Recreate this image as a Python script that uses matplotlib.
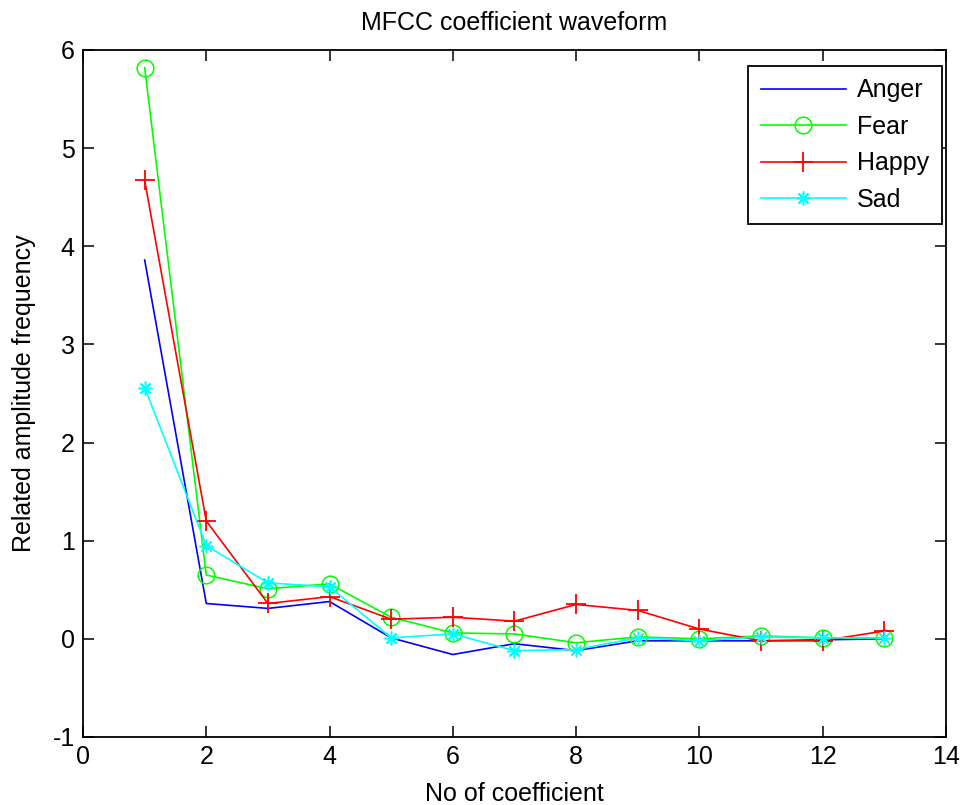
import numpy as np
import matplotlib
matplotlib.use('Agg')
import matplotlib.pyplot as plt

plt.rcParams['font.family'] = ['Liberation Sans', 'DejaVu Sans']
plt.rcParams['axes.unicode_minus'] = False

coef = [1, 2, 3, 4, 5, 6, 7, 8, 9, 10, 11, 12, 13]
anger = [3.86, 0.36, 0.31, 0.38, 0.01, -0.16, -0.05, -0.12, -0.02, -0.02, -0.02, -0.01, 0.0]
fear = [5.82, 0.65, 0.51, 0.56, 0.22, 0.06, 0.05, -0.04, 0.02, 0.0, 0.03, 0.01, 0.01]
happy = [4.67, 1.20, 0.36, 0.43, 0.20, 0.22, 0.18, 0.35, 0.29, 0.10, -0.02, -0.02, 0.08]
sad = [2.56, 0.95, 0.57, 0.53, 0.01, 0.05, -0.12, -0.11, 0.01, -0.02, 0.02, 0.01, 0.01]


def main():
    fig = plt.figure(figsize=(9.69, 8.05), dpi=100)
    ax = fig.add_axes([0.0857, 0.0845, 0.8903, 0.8535])

    # MATLAB style asterisk = plus + cross
    ax.plot(coef, anger, color='#0000ff', lw=1.2, label='Anger')
    ax.plot(coef, fear, color='#00ff00', lw=1.2, marker='o', ms=12, mfc='none', mew=1.1, label='Fear')
    ax.plot(coef, happy, color='#ff0000', lw=1.2, marker='+', ms=14, mew=1.3, label='Happy')
    ax.plot(coef, sad, color='#00ffff', lw=1.2, marker=(8, 2, 0), ms=10, mew=1.1, label='Sad')

    ax.set_xlim(0, 14)
    ax.set_ylim(-1, 6)
    ax.set_xticks(np.arange(0, 15, 2))
    ax.set_yticks(np.arange(-1, 7, 1))
    ax.tick_params(direction='in', top=True, right=True, labelsize=18, length=8, width=1.1, pad=6)
    for s in ax.spines.values():
        s.set_linewidth(1.3)

    ax.set_xlabel('No of coefficient', fontsize=18, labelpad=9)
    ax.set_ylabel('Related amplitude frequency', fontsize=18, labelpad=12)
    ax.set_title('MFCC coefficient waveform', fontsize=18, pad=14)

    leg = ax.legend(loc='upper right', bbox_to_anchor=(0.9954, 0.9767), fontsize=18,
                    fancybox=False, edgecolor='black', framealpha=1,
                    handlelength=3.4, handletextpad=0.45, borderpad=0.5,
                    labelspacing=0.5, borderaxespad=0)
    leg.get_frame().set_linewidth(1.3)

    fig.savefig('out.png', dpi=100)


if __name__ == "__main__":
    main()
